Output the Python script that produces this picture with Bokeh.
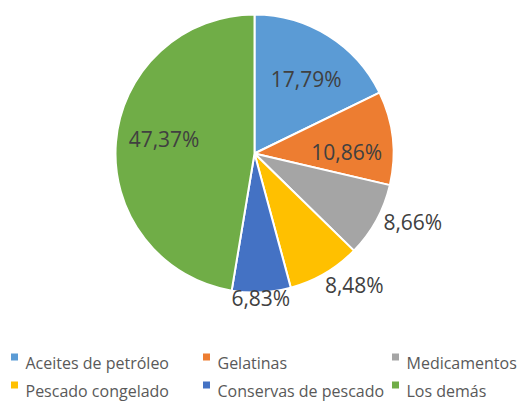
import numpy as np
from bokeh.plotting import figure
from bokeh.models import Range1d, ColumnDataSource
from bokeh.core.properties import value
from bokeh.embed import file_html
from bokeh.resources import INLINE

# ---- data ----
categories = ["Aceites de petróleo", "Gelatinas", "Medicamentos",
              "Pescado congelado", "Conservas de pescado", "Los demás"]
shares = [17.79, 10.86, 8.66, 8.48, 6.83, 47.37]
colors = ["#5B9BD5", "#ED7D31", "#A5A5A5", "#FFC000", "#4472C4", "#70AD47"]

# ---- layout (picture pixel coordinates) ----
W, H = 522, 402
def Y(py):
    return H - py

CX, CY, R = 254, 153, 139

p = figure(width=W, height=H, x_range=Range1d(0, W), y_range=Range1d(0, H),
           output_backend="svg", toolbar_location=None, min_border=0)
p.axis.visible = False
p.grid.visible = False
p.outline_line_color = None
p.background_fill_color = "white"
p.border_fill_color = "white"

vals = np.array(shares, dtype=float)
frac = vals / vals.sum()
cum = np.concatenate([[0], np.cumsum(frac)])
start = np.pi / 2 - 2 * np.pi * cum[:-1]
end = np.pi / 2 - 2 * np.pi * cum[1:]

src = ColumnDataSource(dict(start=start, end=end, color=colors, cat=categories))
p.wedge(x=CX, y=Y(CY), radius=R, start_angle="start", end_angle="end",
        direction="clock", fill_color="color", line_color="white",
        line_width=2, source=src)

# ---- data labels ----
labels = [f"{v:.2f}%".replace(".", ",") for v in shares]
mid = 2 * np.pi * (cum[:-1] + cum[1:]) / 2  # clockwise from top
inside = [True, True, False, False, False, True]
align = ["center", "center", "left", "left", "center", "center"]
nudge = [(3, 3), (1, 9), (0, -2), (-4, 5), (-1, -2), (1, -7)]

lx, ly = [], []
for i in range(len(labels)):
    a = mid[i]
    d = 0.66 * R if inside[i] else R + 8
    lx.append(CX + d * np.sin(a) + nudge[i][0])
    ly.append(Y(CY - d * np.cos(a) + nudge[i][1]))

lab_src = ColumnDataSource(dict(x=lx, y=ly, t=labels, al=align))
lab_font = value("Open Sans")
p.text(x="x", y="y", text="t", text_align="al", source=lab_src,
       text_font=lab_font, text_font_size="21px",
       text_color="#404040", text_baseline="middle")

# ---- legend ----
leg_marker_x = [14, 206, 395, 14, 206, 395]
leg_row = [0, 0, 0, 1, 1, 1]
row_base = [362, 390]
mx = leg_marker_x
my = [Y(row_base[r] - 5.5) for r in leg_row]
tx = [x + 11 for x in leg_marker_x]
ty = [Y(row_base[r]) for r in leg_row]
p.scatter(x=mx, y=my, marker="square", size=7, fill_color=colors,
          line_color=None)
p.text(x=tx, y=ty, text=categories, text_font=lab_font, text_font_size="16px",
       text_color="#595959", text_align="left", text_baseline="alphabetic")

open("out.html", "w").write(file_html(p, INLINE))
